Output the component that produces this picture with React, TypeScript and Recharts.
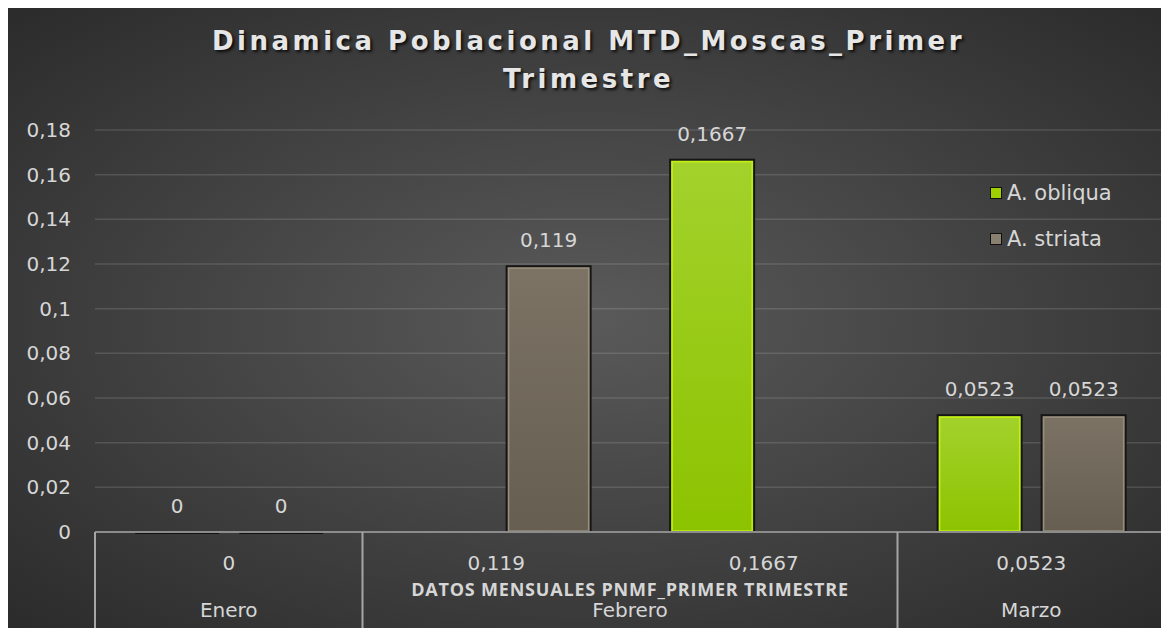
import React from 'react';
import { BarChart, Bar, XAxis, YAxis, CartesianGrid, LabelList, Label } from 'recharts';

const categories = ['0', '0,119', '0,1667', '0,0523'];
const months = ['Enero', 'Febrero', 'Febrero', 'Marzo'];
const obliqua = [0, null, 0.1667, 0.0523];
const striata = [0, 0.119, null, 0.0523];
const yTicks = [0, 0.02, 0.04, 0.06, 0.08, 0.1, 0.12, 0.14, 0.16, 0.18];

const seriesNames = ['A. obliqua', 'A. striata'];

const data = categories.map((c, i) => ({
  cat: c,
  month: months[i],
  obliqua: obliqua[i],
  striata: striata[i],
}));

const W = 1161;
const H = 620;
const TXT = '#d6d6d6';
const FONT = '"DejaVu Sans", sans-serif';
const FS = 20;

const fmt = (v: any) => String(v).replace('.', ',');

const BarShape = (kind: 'g' | 's') => (props: any) => {
  const { x, y, width, height, value } = props;
  if (value == null) return null;
  if (!height || height < 1) {
    return <line x1={x} x2={x + width} y1={y + 1} y2={y + 1} stroke="#111" strokeWidth={2} />;
  }
  const inner = kind === 'g' ? '#c4ee14' : '#978d7c';
  return (
    <g>
      <rect x={x} y={y} width={width} height={height} fill={`url(#grad-${kind})`} stroke="#151515" strokeWidth={2} />
      <rect x={x + 2} y={y + 2} width={width - 4} height={height - 3} fill="none" stroke={inner} strokeWidth={1.5} />
    </g>
  );
};

const BarLabel = (props: any) => {
  const { x, y, width, value } = props;
  if (value == null) return null;
  return (
    <text x={x + width / 2} y={y - 19} textAnchor="middle" fill={TXT} fontSize={FS} fontFamily={FONT}>
      {fmt(value)}
    </text>
  );
};

const MultiTick = (props: any) => {
  const { x, y, payload } = props;
  const i = payload.index ?? categories.indexOf(payload.value);
  const half = payload.offset ? payload.offset : 267.5 / 2;
  const bw = half * 2;
  const first = i === 0 || months[i - 1] !== months[i];
  let span = 1;
  while (i + span < months.length && months[i + span] === months[i]) span++;
  const last = i === categories.length - 1;
  return (
    <g>
      <text x={x} y={y + 38} textAnchor="middle" fill={TXT} fontSize={FS} fontFamily={FONT}>
        {payload.value}
      </text>
      {first && (
        <>
          <line x1={x - half} x2={x - half} y1={y} y2={y + 96} stroke="#a6a6a6" strokeWidth={2} />
          <text x={x - half + (span * bw) / 2} y={y + 85} textAnchor="middle" fill={TXT} fontSize={FS} fontFamily={FONT}>
            {months[i]}
          </text>
        </>
      )}
      {last && <line x1={x + half} x2={x + half} y1={y} y2={y + 96} stroke="#a6a6a6" strokeWidth={2} />}
    </g>
  );
};

export default function App() {
  return (
    <div
      style={{
        position: 'relative',
        width: W,
        height: H,
        background: 'radial-gradient(ellipse at 50% 50%, #5a5a5a 0%, #454545 45%, #2b2b2b 100%)',
        overflow: 'hidden',
      }}
    >
      <div
        style={{
          position: 'absolute',
          top: 14,
          left: 0,
          width: W,
          textAlign: 'center',
          color: '#e6e6e6',
          fontFamily: FONT,
          fontWeight: 'bold',
          fontSize: 26,
          letterSpacing: 3.5,
          lineHeight: '38px',
          textShadow: '2px 2px 3px rgba(0,0,0,0.8)',
        }}
      >
        Dinamica Poblacional MTD_Moscas_Primer
        <br />
        Trimestre
      </div>

      <BarChart
        width={W}
        height={H}
        data={data}
        margin={{ top: 122, right: 4, left: 0, bottom: 0 }}
        barCategoryGap="15%"
        barGap={20}
        style={{ position: 'absolute', top: 0, left: 0 }}
      >
        <defs>
          <linearGradient id="grad-g" x1="0" y1="0" x2="0" y2="1">
            <stop offset="0%" stopColor="#a3d22c" />
            <stop offset="100%" stopColor="#8cc300" />
          </linearGradient>
          <linearGradient id="grad-s" x1="0" y1="0" x2="0" y2="1">
            <stop offset="0%" stopColor="#7c7365" />
            <stop offset="100%" stopColor="#665e51" />
          </linearGradient>
        </defs>
        <CartesianGrid vertical={false} stroke="#ffffff" strokeOpacity={0.13} strokeWidth={1.5} />
        <YAxis
          width={87}
          domain={[0, 0.18]}
          ticks={yTicks}
          tickFormatter={fmt}
          axisLine={false}
          tickLine={false}
          tickSize={0}
          tickMargin={24}
          tick={{ fill: TXT, fontSize: FS, fontFamily: FONT }}
        />
        <XAxis
          dataKey="cat"
          height={96}
          axisLine={{ stroke: '#8c8c8c', strokeWidth: 2 }}
          tickLine={false}
          tickSize={0}
          tickMargin={0}
          interval={0}
          tick={<MultiTick />}
        >
          <Label
            value="DATOS MENSUALES PNMF_PRIMER TRIMESTRE"
            position="insideBottom"
            offset={32}
            fill={TXT}
            fontSize={18}
            fontWeight="bold"
            letterSpacing={0.8}
            fontFamily='"Open Sans", sans-serif'
          />
        </XAxis>
        <Bar dataKey="obliqua" name={seriesNames[0]} isAnimationActive={false} shape={BarShape('g')}>
          <LabelList dataKey="obliqua" content={<BarLabel />} />
        </Bar>
        <Bar dataKey="striata" name={seriesNames[1]} isAnimationActive={false} shape={BarShape('s')}>
          <LabelList dataKey="striata" content={<BarLabel />} />
        </Bar>
      </BarChart>

      <div style={{ position: 'absolute', left: 982, top: 162, fontFamily: FONT, fontSize: 21, color: TXT }}>
        {seriesNames.map((n, i) => (
          <div key={n} style={{ display: 'flex', alignItems: 'center', height: 46 }}>
            <span
              style={{
                display: 'inline-block',
                width: 10,
                height: 10,
                marginRight: 5,
                background: i === 0 ? '#9fd000' : '#8a8070',
                border: '1.5px solid #111',
              }}
            />
            {n}
          </div>
        ))}
      </div>
    </div>
  );
}
